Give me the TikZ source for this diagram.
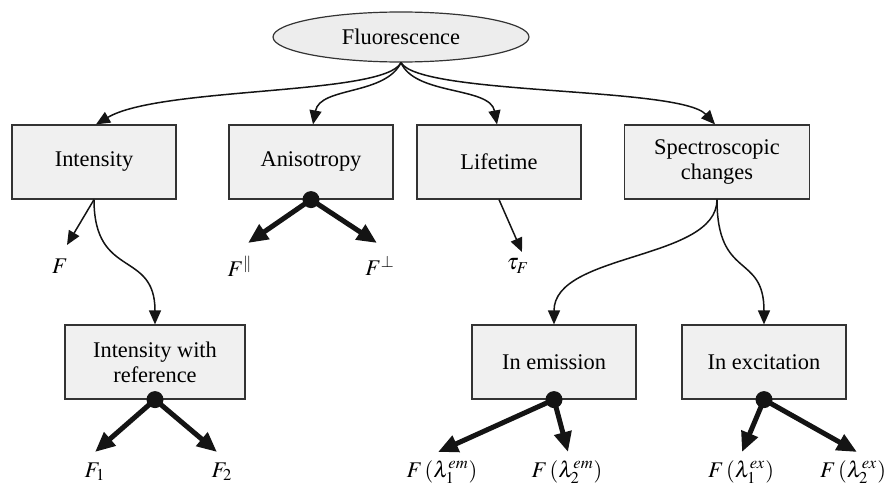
\documentclass[tikz,border=0pt]{standalone}
\usepackage{mathptmx}
\usepackage{fontspec}
\setmainfont{Liberation Serif}
\usetikzlibrary{shapes.geometric,arrows.meta}

\begin{document}
\begin{tikzpicture}[
		x=0.5pt,y=-0.5pt,
		every node/.style={font=\fontsize{11.2}{12.5}\selectfont},
		box/.style={draw=black!80,fill=black!6,line width=0.6pt,minimum width=82pt,minimum height=37pt,align=center,inner sep=2pt},
		root/.style={ellipse,draw=black!80,fill=black!7,line width=0.6pt,minimum width=128pt,minimum height=25pt},
		hub/.style={circle,fill=black!92,minimum size=8.5pt,inner sep=0pt},
		lbl/.style={inner sep=1pt},
		thin/.style={-{Triangle[length=7pt,width=6pt]},line width=0.75pt,black!92},
		thick/.style={-{Triangle[length=10pt,width=8.5pt]},line width=2.5pt,black!92}
		]
		\useasboundingbox (0,0) rectangle (894,487);
		
		\node[root] (fl) at (401,37) {Fluorescence};
		
		\node[box] (int) at (94,162) {Intensity};
		\node[box] (ani) at (311,162) {Anisotropy};
		\node[box] (life) at (499,162) {Lifetime};
		\node[box,minimum width=92.5pt] (spec) at (717,162) {Spectroscopic\\changes};
		
		\node[box,minimum width=90pt] (iref) at (155,362) {Intensity with\\reference};
		\node[box] (emis) at (554,362) {In emission};
		\node[box] (exci) at (764,362) {In excitation};
		
		% first level
		\draw[thin] (fl.south) .. controls +(-16,33) and +(64,-38) .. ([xshift=1pt]int.north);
		\draw[thin] (fl.south) .. controls +(-16,33) and +(7,-38) .. ([xshift=1pt]ani.north);
		\draw[thin] (fl.south) .. controls +(14,33) and +(-7,-38) .. ([xshift=-1pt]life.north);
		\draw[thin] (fl.south) .. controls +(19,33) and +(-35,-38) .. ([xshift=-1pt]spec.north);
		
		% intensity
		\node[lbl] (f) at (60,266) {$F$};
		\coordinate (ftip) at (67,245);
		\draw[thin] (int.south) -- (ftip);
		\draw[thin] (int.south) .. controls +(0,80) and +(0,-75) .. (iref.north);
		
		\node[hub] (irefhub) at (iref.south) {};
		\node[lbl] (f1) at (95,472) {$F_1$};
		\node[lbl] (f2) at (222,472) {$F_2$};
		\coordinate (f1tip) at (95,452);
		\coordinate (f2tip) at (217,452);
		\draw[thick] (irefhub.center) -- (f1tip);
		\draw[thick] (irefhub.center) -- (f2tip);
		
		% anisotropy
		\node[hub] (anihub) at (ani.south) {};
		\node[lbl] (fpar) at (240,266) {$F^{\parallel}$};
		\node[lbl] (fperp) at (380,266) {$F^{\perp}$};
		\coordinate (partip) at (248,243);
		\coordinate (perptip) at (377,243);
		\draw[thick] (anihub.center) -- (partip);
		\draw[thick] (anihub.center) -- (perptip);
		
		% lifetime
		\node[lbl] (tau) at (518,266) {$\tau_F$};
		\coordinate (tautip) at (522,252);
		\draw[thin] (life.south) -- (tautip);
		
		% spectroscopic changes
		\draw[thin] (spec.south) .. controls +(0,61) and +(0,-72) .. (emis.north);
		\draw[thin] (spec.south) .. controls +(0,81) and +(0,-72) .. (exci.north);
		
		\node[hub] (emishub) at (emis.south) {};
		\node[lbl] (em1) at (442,472) {$F\,(\lambda_1^{em})$};
		\node[lbl] (em2) at (567,472) {$F\,(\lambda_2^{em})$};
		\coordinate (em1tip) at (438,452);
		\coordinate (em2tip) at (568,452);
		\draw[thick] (emishub.center) -- (em1tip);
		\draw[thick] (emishub.center) -- (em2tip);
		
		\node[hub] (excihub) at (exci.south) {};
		\node[lbl] (ex1) at (741,472) {$F\,(\lambda_1^{ex})$};
		\node[lbl] (ex2) at (853,472) {$F\,(\lambda_2^{ex})$};
		\coordinate (ex1tip) at (742,452);
		\coordinate (ex2tip) at (857,452);
		\draw[thick] (excihub.center) -- (ex1tip);
		\draw[thick] (excihub.center) -- (ex2tip);
	\end{tikzpicture}
\end{document}
